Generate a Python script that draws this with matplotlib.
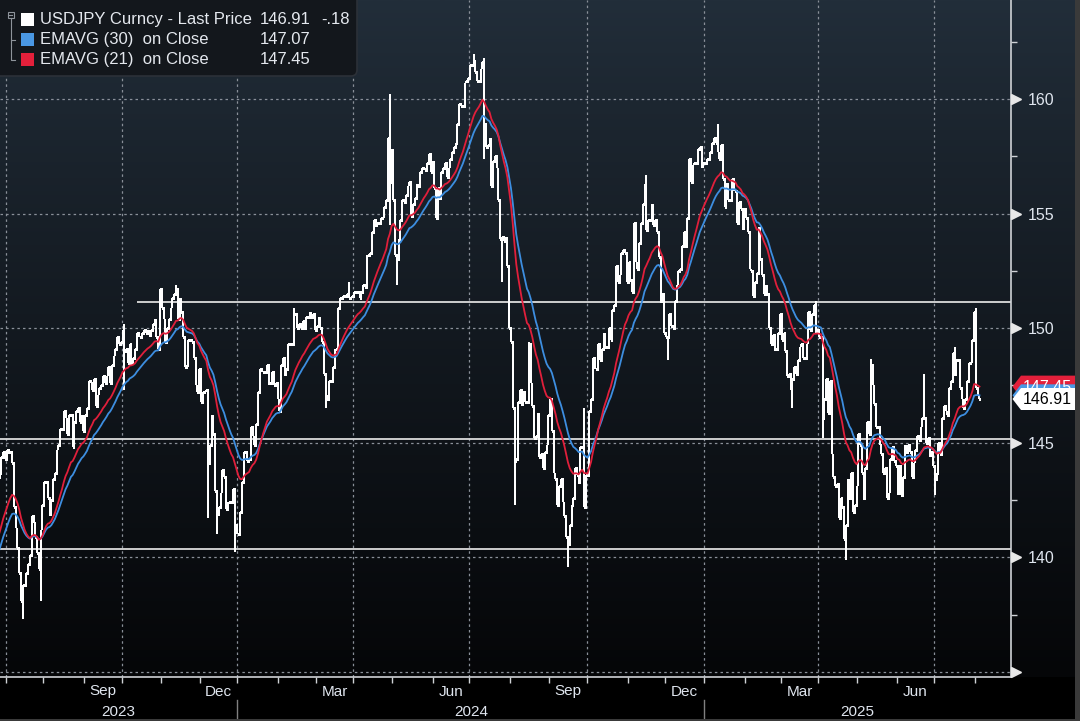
import numpy as np
import pandas as pd
import matplotlib
matplotlib.use("Agg")
import matplotlib.pyplot as plt
from matplotlib.patches import Polygon, Rectangle, FancyBboxPatch
from matplotlib.collections import LineCollection

plt.rcParams['font.family'] = ['Liberation Sans', 'DejaVu Sans']

# USDJPY daily closes, one list per month
# warm-up before the visible window, only used by the moving averages
warmup = [135.7, 136.3, 137.6, 138.7, 137.9, 138.6, 138.6, 139.5, 139.9, 140.6,
          140.4, 139.8, 139.3, 138.8, 139.9, 139.6, 139.6, 140.1, 139.0, 139.4,
          139.6, 140.2, 140.0, 140.3, 141.8, 141.9, 141.5, 141.8, 143.1, 143.7,
          143.5, 143.6]
jun23 = [144.4, 144.6, 144.3]
jul23 = [144.7, 144.5, 144.6, 144.1, 142.2, 141.3, 140.4, 139.3, 138.1, 138.8,
         138.7, 139.3, 139.7, 140.1, 141.8, 141.5, 140.9, 140.2, 139.5, 141.2, 142.3]
aug23 = [143.3, 143.3, 142.6, 141.8, 142.5, 143.4, 143.7, 144.7, 144.9, 145.6,
         145.6, 146.4, 146.1, 145.4, 146.2, 146.2, 144.8, 145.9, 146.4, 146.5,
         145.9, 146.2, 145.5]
sep23 = [146.2, 146.5, 147.7, 147.6, 147.3, 147.8, 146.6, 147.1, 147.4, 147.5,
         147.9, 147.6, 147.9, 148.3, 147.6, 148.4, 148.8, 149.1, 149.6, 149.3, 149.4]
oct23 = [149.9, 149.0, 149.1, 148.5, 149.3, 148.5, 148.7, 149.1, 149.8, 149.6,
         149.6, 149.8, 149.9, 149.8, 149.9, 149.7, 149.9, 150.2, 150.4, 149.6,
         149.1, 151.7]
nov23 = [150.9, 150.4, 149.4, 150.0, 150.4, 150.9, 151.3, 151.5, 151.7, 150.4,
         151.3, 150.7, 149.6, 148.3, 148.4, 149.5, 149.5, 149.4, 148.7, 147.5,
         147.2, 148.2]
dec23 = [146.8, 147.2, 147.2, 147.3, 144.1, 144.9, 146.2, 145.4, 142.9, 141.9,
         142.2, 142.8, 143.8, 143.5, 142.1, 142.4, 142.4, 142.4, 143.0, 141.4, 141.0]
jan24 = [141.0, 142.0, 143.3, 144.6, 144.6, 144.2, 144.3, 145.7, 145.3, 144.9,
         145.8, 147.2, 148.2, 148.1, 148.1, 148.1, 148.4, 147.5, 147.6, 148.1,
         147.5, 147.6, 146.9]
feb24 = [146.4, 148.4, 148.7, 147.9, 148.2, 149.3, 149.3, 149.3, 150.6, 150.6,
         150.0, 150.2, 150.0, 150.3, 150.0, 150.5, 150.5, 150.7, 150.5, 150.6, 149.9]
mar24 = [150.1, 150.5, 150.0, 149.4, 148.0, 147.1, 146.9, 147.7, 147.7, 148.3,
         149.1, 149.1, 150.9, 151.3, 151.3, 151.4, 151.4, 151.5, 151.3, 151.3, 151.4]
apr24 = [151.6, 151.6, 151.6, 151.3, 151.6, 151.9, 151.8, 153.2, 153.2, 153.3,
         154.2, 154.7, 154.4, 154.6, 154.6, 154.8, 154.8, 155.3, 155.6, 158.3,
         156.4, 157.8]
may24 = [155.6, 153.2, 153.0, 153.9, 154.7, 155.6, 155.5, 155.8, 156.2, 156.4,
         154.9, 155.4, 155.7, 156.3, 156.2, 156.8, 157.0, 157.0, 156.9, 157.2,
         157.6, 156.8, 157.3]
jun24 = [156.1, 154.8, 156.1, 155.6, 156.8, 157.0, 157.2, 156.6, 157.0, 157.4,
         157.7, 157.9, 158.1, 158.9, 159.8, 159.7, 159.7, 160.7, 160.8, 160.9]
jul24 = [161.5, 161.5, 161.7, 161.2, 160.8, 160.8, 161.3, 161.6, 158.9, 157.9,
         158.0, 158.3, 156.2, 157.3, 157.5, 157.0, 155.6, 153.9, 154.0, 153.8,
         154.0, 152.7, 150.0]
aug24 = [149.4, 146.5, 144.2, 144.3, 146.8, 147.3, 146.6, 147.2, 146.8, 146.8,
         149.3, 147.6, 146.6, 145.2, 145.3, 146.3, 144.4, 144.5, 143.9, 144.6,
         144.9, 146.2]
sep24 = [146.9, 145.5, 143.7, 143.4, 142.3, 143.1, 143.4, 142.4, 141.8, 140.9,
         140.6, 141.4, 142.3, 142.6, 143.9, 143.6, 143.2, 144.8, 144.8, 142.2, 143.6]
oct24 = [143.5, 146.4, 146.9, 148.7, 148.2, 148.2, 149.3, 148.6, 149.1, 149.8,
         149.2, 149.2, 150.0, 149.5, 150.8, 151.0, 152.7, 152.0, 152.3, 153.3,
         153.4, 153.3, 152.0]
nov24 = [152.9, 152.1, 151.6, 154.6, 152.9, 152.6, 153.7, 154.6, 155.4, 156.3,
         154.3, 154.7, 154.7, 155.4, 154.5, 154.7, 154.2, 153.1, 151.1, 151.5, 149.8]
dec24 = [149.6, 149.6, 150.6, 150.1, 150.0, 151.2, 151.9, 152.5, 152.6, 153.6,
         154.2, 153.5, 154.8, 157.4, 156.4, 157.1, 157.2, 157.2, 157.8, 157.9,
         157.0, 157.2]
jan25 = [157.2, 157.4, 157.3, 157.7, 158.1, 158.3, 158.1, 157.7, 157.4, 158.0,
         156.5, 155.3, 156.3, 155.6, 155.6, 156.5, 156.0, 156.0, 154.6, 155.5,
         155.2, 154.3, 155.2]
feb25 = [154.8, 154.2, 152.6, 152.5, 151.4, 152.0, 152.4, 154.4, 153.0, 152.3,
         151.5, 151.9, 151.5, 150.0, 149.3, 149.7, 149.0, 149.1, 149.8, 150.6]
mar25 = [149.5, 149.8, 149.0, 147.9, 148.0, 147.3, 147.8, 148.3, 148.0, 148.6,
         149.2, 149.3, 148.7, 148.7, 149.3, 150.7, 149.9, 150.6, 151.0, 149.8, 149.9]
apr25 = [149.6, 149.6, 146.1, 146.9, 147.8, 146.3, 147.7, 144.5, 143.5, 143.1,
         143.2, 141.7, 142.6, 142.2, 140.8, 141.4, 143.4, 142.6, 143.7, 142.0,
         142.3, 143.1]
may25 = [145.4, 144.9, 143.7, 142.5, 143.9, 145.9, 145.4, 148.4, 147.5, 146.7,
         145.7, 145.7, 144.9, 144.5, 143.7, 143.9, 142.6, 142.8, 144.3, 144.8,
         144.2, 144.0]
jun25 = [142.7, 144.0, 142.7, 143.5, 144.9, 144.6, 144.9, 144.6, 143.5, 144.1,
         144.7, 145.3, 145.1, 145.7, 146.1, 146.1, 145.0, 145.2, 144.4, 144.6, 144.0]
jul25 = [143.4, 143.7, 145.0, 144.5, 146.1, 146.6, 146.4, 146.2, 147.4, 147.7,
         148.9, 147.9, 148.6, 148.6, 147.4, 146.9, 146.5, 146.9, 147.7, 148.5,
         148.5, 149.5, 150.7]
aug25 = [147.4, 147.09, 146.91]

segments = [("2023-05-15", warmup), ("2023-06-28", jun23), ("2023-07-01", jul23),
            ("2023-08-01", aug23), ("2023-09-01", sep23), ("2023-10-01", oct23),
            ("2023-11-01", nov23), ("2023-12-01", dec23), ("2024-01-01", jan24),
            ("2024-02-01", feb24), ("2024-03-01", mar24), ("2024-04-01", apr24),
            ("2024-05-01", may24), ("2024-06-01", jun24), ("2024-07-01", jul24),
            ("2024-08-01", aug24), ("2024-09-01", sep24), ("2024-10-01", oct24),
            ("2024-11-01", nov24), ("2024-12-01", dec24), ("2025-01-01", jan25),
            ("2025-02-01", feb25), ("2025-03-01", mar25), ("2025-04-01", apr25),
            ("2025-05-01", may25), ("2025-06-01", jun25), ("2025-07-01", jul25),
            ("2025-08-01", aug25)]

# intraday extremes on the days with long bars
ext_dates = ["2023-07-14", "2023-07-28", "2023-10-03", "2023-10-03", "2023-11-13",
             "2023-12-07", "2023-12-14", "2023-12-28", "2024-02-13", "2024-03-08",
             "2024-03-27", "2024-04-29", "2024-04-29", "2024-05-03", "2024-07-03",
             "2024-07-11", "2024-07-11", "2024-07-25", "2024-08-05", "2024-08-15",
             "2024-09-16", "2024-09-27", "2024-11-15", "2024-12-03", "2025-01-10",
             "2025-03-11", "2025-03-28", "2025-04-03", "2025-04-22", "2025-05-12",
             "2025-06-23", "2025-07-01", "2025-07-16", "2025-08-01"]
ext_values = [137.3, 138.1, 150.2, 147.3, 151.9,
              141.7, 141.0, 140.25, 150.9, 146.5,
              152.0, 160.2, 154.5, 151.9, 161.95,
              161.8, 157.4, 152.0, 142.3, 149.4,
              139.6, 146.5, 156.7, 148.6, 158.9,
              146.5, 151.2, 145.2, 139.9, 148.65,
              148.0, 142.7, 149.2, 150.9]

# horizontal levels drawn on the chart
level_values = [151.14, 145.17, 140.35]
level_starts = ["2023-10-12", None, None]

legend_rows = [("USDJPY Curncy - Last Price", "146.91", "-.18", "#ffffff"),
               ("EMAVG (30)  on Close", "147.07", "", "#4a98e4"),
               ("EMAVG (21)  on Close", "147.45", "", "#e3203b")]
y_ticks = [135, 140, 145, 150, 155, 160]
y_labels = ["", "140", "145", "150", "155", "160"]

ref = np.datetime64("2023-06-28")
dates = np.concatenate([pd.bdate_range(s, periods=len(v)).values.astype("datetime64[D]")
                        for s, v in segments])
closes = np.concatenate([np.asarray(v, float) for s, v in segments])
x = np.busday_count(ref, dates).astype(float)

ema30 = pd.Series(closes).ewm(span=30, adjust=False).mean().values
ema21 = pd.Series(closes).ewm(span=21, adjust=False).mean().values

prev = np.r_[closes[0], closes[:-1]]
lo = np.minimum(prev, closes)
hi = np.maximum(prev, closes)
for d, v in zip(ext_dates, ext_values):
    i = np.where(dates == np.datetime64(d))[0]
    if len(i):
        lo[i[0]] = min(lo[i[0]], v)
        hi[i[0]] = max(hi[i[0]], v)

W, H = 1080, 721
fig = plt.figure(figsize=(W / 100, H / 100), dpi=100, facecolor="black")
plot_bottom = 677

# gradient background behind plot and price scale
bg = fig.add_axes([0, (H - plot_bottom) / H, 1075 / W, plot_bottom / H])
grad = np.linspace(0, 1, 256)[:, None]
top_c = np.array([0x22, 0x2e, 0x3a]) / 255
bot_c = np.array([0x05, 0x06, 0x08]) / 255
img = top_c[None, None, :] * (1 - grad[..., None] ** 0.9) + bot_c[None, None, :] * grad[..., None] ** 0.9
bg.imshow(img, aspect="auto", extent=[0, 1, 0, 1])
bg.axis("off")

ax = fig.add_axes([0, (H - plot_bottom) / H, 1011 / W, plot_bottom / H])
ax.set_facecolor("none")
xmin, xmax = -0.81, 566.7
ax.set_xlim(xmin, xmax)
ax.set_ylim(134.78, 164.32)

months = pd.date_range("2023-07-01", "2025-08-01", freq="MS")
mt = np.busday_count(ref, months.values.astype("datetime64[D]")) - 0.5
grid_c = "#8a9099"
for t, m in zip(mt, months):
    if m.month in (1, 4, 7, 10):
        ax.axvline(t, color=grid_c, lw=0.9, ls=(0, (2, 2.5)), zorder=1)
for lv in y_ticks:
    ax.axhline(lv, color=grid_c, lw=0.9, ls=(0, (2, 2.5)), zorder=1)

for lv, st in zip(level_values, level_starts):
    x0 = np.busday_count(ref, np.datetime64(st)) if st else xmin
    ax.hlines(lv, x0, xmax, color="#dcdcdc", lw=1.3, zorder=2)

# price bars: range plus open (left) and close (right) ticks, crisp white
ax.vlines(x, lo, hi, colors="white", lw=1.1, zorder=3, antialiased=False)
ticks = [[(xi - 0.45, o), (xi, o)] for xi, o in zip(x, prev)]
ticks += [[(xi, c), (xi + 0.45, c)] for xi, c in zip(x, closes)]
ax.add_collection(LineCollection(ticks, colors="white", lw=0.8, zorder=3, antialiased=False))
ax.plot(x, ema30, color="#3d8ee0", lw=1.3, zorder=4)
ax.plot(x, ema21, color="#e01f3b", lw=1.3, zorder=5)

spine_c = "#cfd2d6"
for s in ("top", "left"):
    ax.spines[s].set_visible(False)
for s in ("right", "bottom"):
    ax.spines[s].set_color(spine_c)
    ax.spines[s].set_linewidth(1.2)

txt_c = "#dfe5ee"
ax.set_xticks(mt)
ax.set_xticklabels([])
ax.tick_params(axis="x", direction="out", length=4, width=1, color=spine_c)
ax.yaxis.tick_right()
ax.set_yticks(y_ticks)
ax.set_yticklabels(y_labels)
ax.set_yticks(np.arange(137.5, 164, 5), minor=True)
ax.tick_params(axis="y", which="major", length=0, pad=12, labelsize=11.5, labelcolor=txt_c)
ax.tick_params(axis="y", which="minor", direction="out", length=4, width=1, color=spine_c)
ax.plot(np.full(len(y_ticks), 1.0045), y_ticks, ls="none", marker=">", ms=6.5,
        color="#e8e8e8", transform=ax.get_yaxis_transform(), clip_on=False, zorder=6)

# month and year labels under the axis
xt = ax.get_xaxis_transform()
m_y = (plot_bottom - 691.5) / plot_bottom
y_y = (plot_bottom - 711.5) / plot_bottom
for i, m in enumerate(months[:-1]):
    if m.month in (3, 6, 9, 12):
        ax.text((mt[i] + mt[i + 1]) / 2, m_y, m.strftime("%b"), transform=xt,
                ha="center", va="center", fontsize=11, color=txt_c)
jan_idx = [i for i, m in enumerate(months) if m.month == 1]
edges = [xmin] + [mt[i] for i in jan_idx] + [xmax]
for k, yr in enumerate(["2023", "2024", "2025"]):
    ax.text((edges[k] + edges[k + 1]) / 2, y_y, yr, transform=xt,
            ha="center", va="center", fontsize=11, color=txt_c)
for i in jan_idx:
    ax.plot([mt[i], mt[i]], [(plot_bottom - 700) / plot_bottom, (plot_bottom - 721) / plot_bottom],
            color="#808080", lw=1, transform=xt, clip_on=False)

# overlay in pixel coordinates for legend and price tags
ov = fig.add_axes([0, 0, 1, 1])
ov.set_xlim(0, W)
ov.set_ylim(H, 0)
ov.axis("off")
ov.set_facecolor("none")


def ypix(v):
    return H - ax.transData.transform((0, v))[1]


ov.add_patch(FancyBboxPatch((-10, -10), 367, 86, boxstyle="round,pad=0,rounding_size=6",
                            facecolor="#13171c", edgecolor="#2c3138", lw=1.2))
ov.add_patch(Rectangle((7.5, 11.5), 6, 6, fill=False, edgecolor="#8e949b", lw=0.8))
ov.plot([9, 12], [14.5, 14.5], color="#8e949b", lw=0.8)
ov.plot([10.5, 10.5, 14.5], [17.5, 59.5, 59.5], color="#8e949b", lw=0.8)
ov.plot([10.5, 14.5], [39.5, 39.5], color="#8e949b", lw=0.8)
leg_c = "#e4e8ee"
for r, (name, val, chg, col) in enumerate(legend_rows):
    yc = 19.5 + 20 * r
    ov.add_patch(Rectangle((21, yc - 6.5), 13, 13, facecolor=col, edgecolor="none"))
    ov.text(40, yc, name, ha="left", va="center", fontsize=12, color=leg_c)
    ov.text(260, yc, val, ha="left", va="center", fontsize=12, color=leg_c)
    if chg:
        ov.text(321, yc, chg, ha="left", va="center", fontsize=12, color=leg_c)


def tag(v, face, text_c, label, clip_below=None):
    yc = ypix(v)
    pts = [(1012.5, yc), (1021, yc - 11), (1075, yc - 11), (1075, yc + 11), (1021, yc + 11)]
    ov.add_patch(Polygon(pts, closed=True, facecolor=face, edgecolor="none"))
    if label:
        t = ov.text(1047, yc + 0.5, label, ha="center", va="center", fontsize=11.5, color=text_c)
        if clip_below is not None:
            clip = Rectangle((1012, yc - 12), 64, clip_below - (yc - 12),
                             transform=ov.transData, fill=False)
            t.set_clip_path(clip)


last_y = ypix(float(legend_rows[0][1]))
# the red and blue tags sit behind the last-price tag, as in the reference
tag(float(legend_rows[2][1]), "#e3203b", "white", legend_rows[2][1], clip_below=last_y - 11)
tag(float(legend_rows[1][1]), "#4a98e4", "white", "")
tag(float(legend_rows[0][1]), "white", "black", legend_rows[0][1])

ov.add_patch(Rectangle((1075, 0), 5, H, facecolor="#3a3a3a", edgecolor="none"))
ov.add_patch(Rectangle((0, 718.5), W, 3, facecolor="#3a3a3a", edgecolor="none"))

fig.savefig("out.png", dpi=100, facecolor="black")
